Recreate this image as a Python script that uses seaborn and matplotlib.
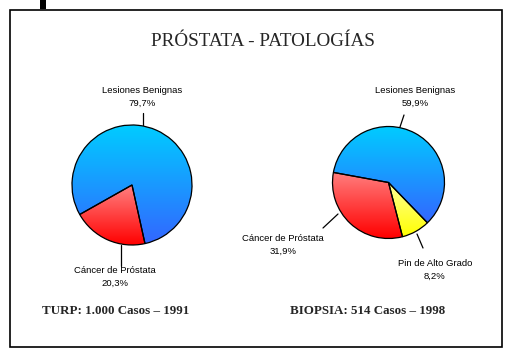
import numpy as np
import seaborn as sns
import matplotlib.pyplot as plt
from matplotlib.colors import to_rgb
from matplotlib.patches import Rectangle

# data
turp_labels = ['Lesiones Benignas', 'Cáncer de Próstata']
turp_values = [79.7, 20.3]
biopsia_labels = ['Lesiones Benignas', 'Cáncer de Próstata', 'Pin de Alto Grado']
biopsia_values = [59.9, 31.9, 8.2]

title = 'PRÓSTATA - PATOLOGÍAS'
caption_left = 'TURP: 1.000 Casos – 1991'
caption_right = 'BIOPSIA: 514 Casos – 1998'

# gradient colours (top, bottom) per category
gradients = {
    'Lesiones Benignas': ('#00CCFF', '#3366FF'),
    'Cáncer de Próstata': ('#FF8080', '#FF0000'),
    'Pin de Alto Grado': ('#FFFF99', '#FFFF00'),
}

sns.set_style('white')
plt.rcParams['font.family'] = ['Liberation Sans', 'DejaVu Sans']

W, H = 513, 362
fig = plt.figure(figsize=(W / 100, H / 100), dpi=100)
ax = fig.add_axes([0, 0, 1, 1])
ax.set_axis_off()


def fmt(v):
    return f'{v:.1f}'.replace('.', ',') + '%'


def gradient_pie(values, labels, center, radius, start, label_pos, leaders):
    cx, cy = center[0], H - center[1]
    wedges, _ = ax.pie(values, center=(cx, cy), radius=radius, startangle=start,
                       counterclock=True, frame=True,
                       wedgeprops=dict(edgecolor='black', linewidth=0.9, facecolor='none', zorder=3))
    for w, lab in zip(wedges, labels):
        ext = w.get_path().get_extents()
        top, bot = np.array(to_rgb(gradients[lab][0])), np.array(to_rgb(gradients[lab][1]))
        t = np.linspace(0, 1, 200)[:, None, None]
        img = top * (1 - t) + bot * t
        im = ax.imshow(img, extent=[ext.x0, ext.x1, ext.y0, ext.y1], origin='upper',
                       aspect='auto', zorder=2, interpolation='bilinear')
        im.set_clip_path(w)
    for lab, val, (lx, ly), (p0, p1) in zip(labels, values, label_pos, leaders):
        ax.text(lx, H - ly, f'{lab}\n{fmt(val)}', ha='center', va='center',
                fontsize=6.8, linespacing=1.65, color='black')
        ax.plot([p0[0], p1[0]], [H - p0[1], H - p1[1]], color='black', lw=0.9)


gradient_pie(turp_values, turp_labels, center=(132, 185), radius=60, start=282.5,
             label_pos=[(142, 97), (115, 277)],
             leaders=[((143, 113), (143, 125)), ((121, 245), (121, 266))])

gradient_pie(biopsia_values, biopsia_labels, center=(388.5, 182.5), radius=56, start=314,
             label_pos=[(415, 97), (283, 245), (435, 270)],
             leaders=[((404, 115), (400, 127)), ((323, 228), (338, 214)), ((423, 248), (417, 234))])

# frame and decorations
ax.add_patch(Rectangle((10, H - 347), 492, 337, fill=False, edgecolor='black', lw=1.2, zorder=5))
ax.add_patch(Rectangle((40, H - 9), 6, 9, facecolor='black', edgecolor='none', zorder=5))

ax.text(263, H - 41, title, ha='center', va='center', fontsize=13.8,
        family=['Liberation Serif', 'DejaVu Serif'])
ax.text(42, H - 311, caption_left, ha='left', va='center', fontsize=9.4, fontweight='bold',
        family=['Liberation Serif', 'DejaVu Serif'])
ax.text(290, H - 311, caption_right, ha='left', va='center', fontsize=9.4, fontweight='bold',
        family=['Liberation Serif', 'DejaVu Serif'])

ax.set_xlim(0, W)
ax.set_ylim(0, H)
ax.set_aspect('auto')

plt.savefig('out.png', dpi=100)
plt.close()
